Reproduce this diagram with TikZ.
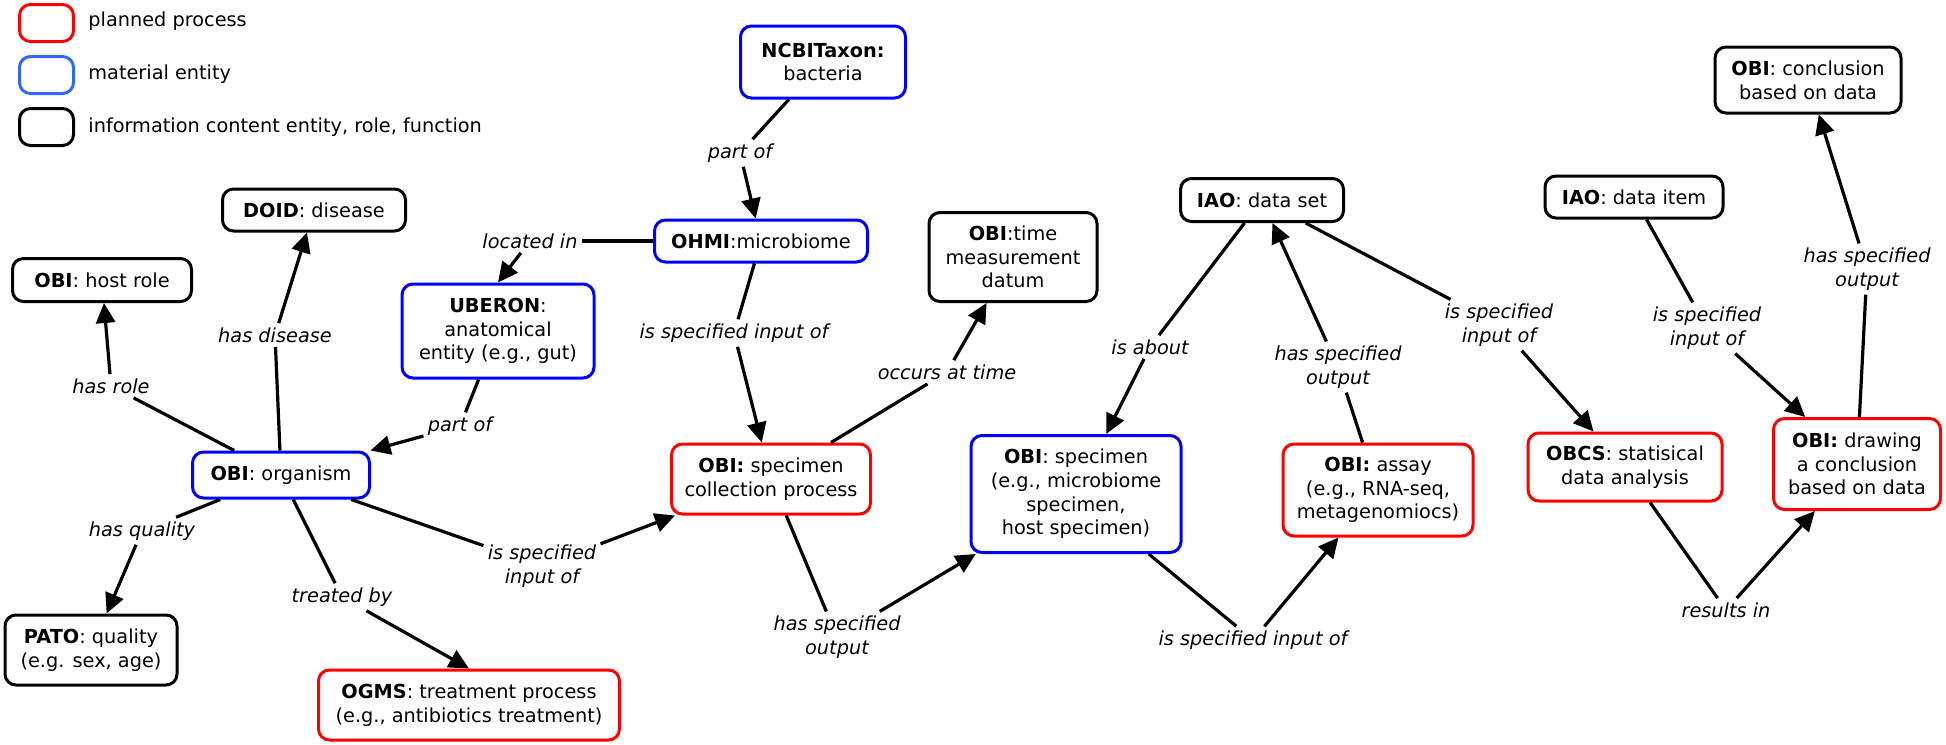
\documentclass[tikz,border=0pt]{standalone}
\usepackage{fontspec}
\setmainfont{DejaVu Sans}
\usetikzlibrary{arrows.meta}
\definecolor{procred}{RGB}{255,0,0}
\definecolor{matblue}{RGB}{0,0,255}
\definecolor{keyblue}{RGB}{51,102,255}
\begin{document}
\begin{tikzpicture}[x=0.5pt,y=-0.5pt,font=\fontsize{9.65}{11.85}\selectfont,
  box/.style={draw,line width=1.5pt,rounded corners=5.5pt,align=center,inner sep=3pt},
  proc/.style={box,draw=procred},
  mat/.style={box,draw=matblue},
  info/.style={box,draw=black},
  rel/.style={font=\fontsize{9.65}{11.85}\selectfont\itshape,align=center,inner sep=2pt},
  link/.style={line width=1.6pt},
  arr/.style={link,-{Triangle[length=10pt,width=9.5pt]}}]
\useasboundingbox(0,0)rectangle(1946,744);
\node[proc,draw=procred,minimum width=27pt,minimum height=18.5pt](kproc)at(46.5,23){};
\node[proc,draw=keyblue,minimum width=27pt,minimum height=18.5pt](kmat)at(46.5,75){};
\node[info,minimum width=27pt,minimum height=18.5pt](kinfo)at(46.5,127){};
\node[anchor=west,inner sep=0pt](kproctxt)at(88,21){planned process};
\node[anchor=west,inner sep=0pt](kmattxt)at(88,74){material entity};
\node[anchor=west,inner sep=0pt](kinfotxt)at(88,127){information content entity, role, function};
\node[info,minimum width=89.5pt,minimum height=21.5pt](hostrole)at(102,280){\textbf{OBI}: host role};
\node[info,minimum width=91.5pt,minimum height=21pt](doid)at(314,210){\textbf{DOID}: disease};
\node[mat,minimum width=96pt,minimum height=47pt](uberon)at(498,331){\textbf{UBERON}:\\anatomical\\entity (e.g., gut)};
\node[mat,minimum width=88.5pt,minimum height=23pt](org)at(281,475){\textbf{OBI}: organism};
\node[info,minimum width=86pt,minimum height=35pt](pato)at(91,650){\textbf{PATO}: quality\\(e.g. sex, age)};
\node[proc,minimum width=150.5pt,minimum height=35pt](ogms)at(469,705){\textbf{OGMS}: treatment process\\(e.g., antibiotics treatment)};
\node[mat,minimum width=82.5pt,minimum height=36pt](ncbi)at(823,62){\textbf{NCBITaxon:}\\bacteria};
\node[mat,minimum width=106.5pt,minimum height=21pt](ohmi)at(761,241){\textbf{OHMI}:microbiome};
\node[info,minimum width=84pt,minimum height=44.5pt](time)at(1013,257){\textbf{OBI}:time\\measurement\\datum};
\node[proc,minimum width=99.5pt,minimum height=35pt](coll)at(771,479){\textbf{OBI:} specimen\\collection process};
\node[mat,minimum width=105pt,minimum height=58.5pt](specimen)at(1076,494){\textbf{OBI}: specimen\\(e.g., microbiome\\specimen,\\host specimen)};
\node[info,minimum width=81.5pt,minimum height=21.5pt](dataset)at(1262,200){\textbf{IAO}: data set};
\node[proc,minimum width=95pt,minimum height=46pt](assay)at(1378,490){\textbf{OBI:} assay\\(e.g., RNA-seq,\\metagenomiocs)};
\node[info,minimum width=89pt,minimum height=21pt](dataitem)at(1634,197){\textbf{IAO}: data item};
\node[proc,minimum width=97pt,minimum height=34pt](obcs)at(1625,467){\textbf{OBCS}: statisical\\data analysis};
\node[proc,minimum width=83.5pt,minimum height=45.5pt](drawing)at(1857,464){\textbf{OBI:} drawing\\a conclusion\\based on data};
\node[info,minimum width=93pt,minimum height=33pt](conclusion)at(1808,80){\textbf{OBI}: conclusion\\based on data};
\node[rel](lrole)at(111,386){has role};
\node[rel](ldis)at(275,335){has disease};
\node[rel](lpartu)at(460,426){part of};
\node[rel](lloc)at(530,241){located in};
\node[rel](lpartb)at(740,153){part of};
\node[rel](lqual)at(142,531){has quality};
\node[rel](ltreat)at(342,597){treated by};
\node[rel](linorg)at(542,566){is specified\\input of};
\node[rel](linohmi)at(734,333){is specified input of};
\node[rel](ltime)at(947,372){occurs at time};
\node[rel](loutcoll)at(837,637){has specified\\output};
\node[rel](labout)at(1150,347){is about};
\node[rel](linspec)at(1253,640){is specified input of};
\node[rel](loutassay)at(1338,367){has specified\\output};
\node[rel](linset)at(1499,325){is specified\\input of};
\node[rel](linitem)at(1707,328){is specified\\input of};
\node[rel](loutdraw)at(1867,269){has specified\\output};
\node[rel](lres)at(1726,610){results in};
\draw[link](org)--(lrole);\draw[arr](lrole)--(hostrole);
\draw[link](org)--(ldis);\draw[arr](ldis)--(doid);
\draw[link](uberon)--(lpartu);\draw[arr](lpartu)--(org);
\draw[link](ohmi)--(lloc);\draw[arr](lloc)--(uberon.north);
\draw[link](ncbi)--(lpartb);\draw[arr](lpartb)--(ohmi);
\draw[link](org)--(lqual);\draw[arr](lqual)--(pato);
\draw[link](org)--(ltreat);\draw[arr](ltreat)--(ogms.north);
\draw[link](org)--(linorg);\draw[arr](linorg)--(coll);
\draw[link](ohmi)--(linohmi);\draw[arr](linohmi)--(coll);
\draw[link](coll)--(ltime);\draw[arr](ltime)--(time);
\draw[link](coll)--(loutcoll);\draw[arr](loutcoll)--(specimen);
\draw[link](dataset)--(labout);\draw[arr](labout)--(specimen);
\draw[link](specimen)--(linspec);\draw[arr](linspec)--(assay);
\draw[link](assay)--(loutassay);\draw[arr](loutassay)--(dataset);
\draw[link](dataset)--(linset);\draw[arr](linset)--(obcs);
\draw[link](dataitem)--(linitem);\draw[arr](linitem)--(drawing);
\draw[link](drawing)--(loutdraw);\draw[arr](loutdraw)--(conclusion);
\draw[link](obcs)--(lres);\draw[arr](lres)--(drawing);
\end{tikzpicture}
\end{document}
